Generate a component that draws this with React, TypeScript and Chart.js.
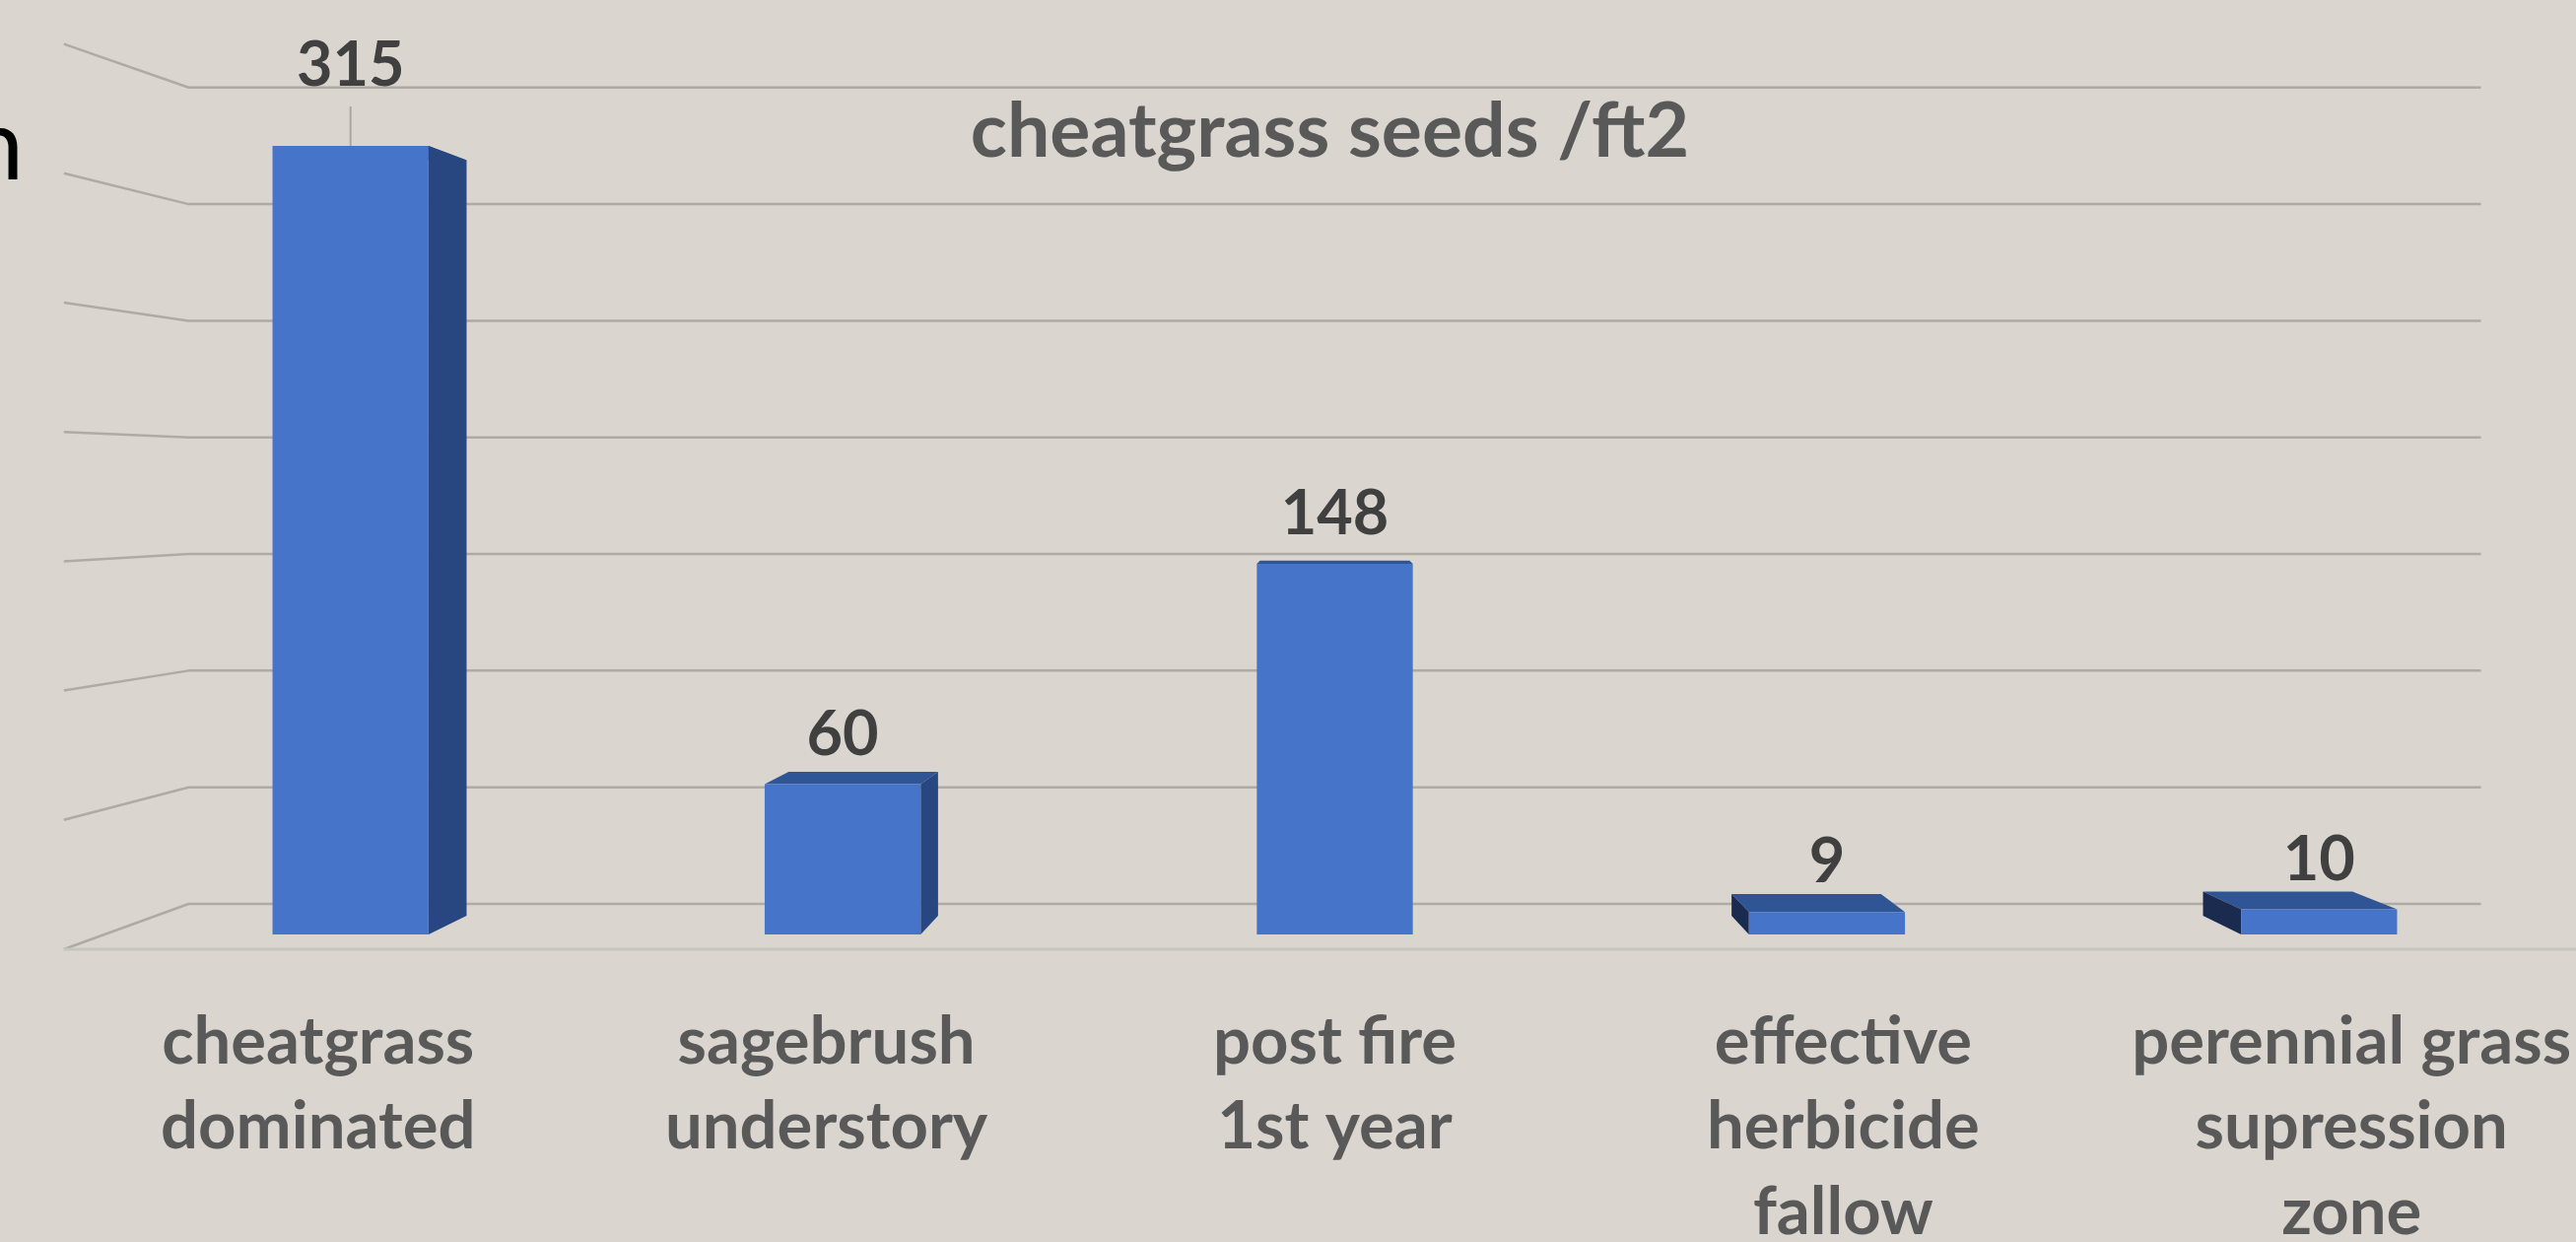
import React, { useEffect, useRef } from 'react';
import { Chart, registerables } from 'chart.js';

Chart.register(...registerables);

// ---- data ----
const TITLE = 'cheatgrass seeds /ft2';
const CATEGORIES: string[][] = [
  ['cheatgrass', 'dominated'],
  ['sagebrush', 'understory'],
  ['post fire', '1st year'],
  ['effective', 'herbicide', 'fallow'],
  ['perennial grass', 'supression', 'zone'],
];
const SEED_COUNTS: number[] = [315, 60, 148, 9, 10];
const GRID_VALUES: number[] = [0, 50, 100, 150, 200, 250, 300, 350];
const Y_MAX = 350;
const SIDE_TEXT = 'n';

// ---- style ----
const BG = '#dad6cf';
const FRONT = '#4674c9';
const TOP_FACE = '#305594';
const RIGHT_FACE = '#284780';
const LEFT_FACE = '#1b2b4f';
const GRID = '#aeaaa4';
const FLOOR = '#c6c4c0';
const FONT = 'Lato, "Open Sans", sans-serif';

// perspective (depth factors relative to the bars' front plane)
const VANISH_Y = 0.49;
const BAR_DEPTH = 0.958;
const WALL_DEPTH = 0.9316;
const FLOOR_DEPTH = 1.033;
const N = CATEGORIES.length;
const LABEL_MIN = (N - 1) / 2 - N / (2 * FLOOR_DEPTH);
const LABEL_MAX = LABEL_MIN + N / FLOOR_DEPTH;

const perspectivePlugin = {
  id: 'perspective3d',
  beforeDatasetsDraw(chart: any) {
    const { ctx, chartArea: a, scales } = chart;
    const y = scales.y;
    const vx = (a.left + a.right) / 2;
    const vy = a.top + VANISH_Y * (a.bottom - a.top);
    const proj = (px: number, py: number, k: number) => [vx + k * (px - vx), vy + k * (py - vy)];
    ctx.save();
    // back wall gridlines + left wall
    ctx.strokeStyle = GRID;
    ctx.lineWidth = 2.5;
    ctx.lineJoin = 'round';
    for (const g of GRID_VALUES) {
      const py = y.getPixelForValue(g);
      const [bl, by] = proj(a.left, py, WALL_DEPTH);
      const [br] = proj(a.right, py, WALL_DEPTH);
      const [fl, fy] = proj(a.left, py, FLOOR_DEPTH);
      ctx.beginPath();
      ctx.moveTo(fl, fy);
      ctx.lineTo(bl, by);
      ctx.lineTo(br, by);
      ctx.stroke();
    }
    // floor front edge
    const [fl0, fy0] = proj(a.left, y.getPixelForValue(0), FLOOR_DEPTH);
    ctx.strokeStyle = FLOOR;
    ctx.lineWidth = 3;
    ctx.beginPath();
    ctx.moveTo(fl0, fy0);
    ctx.lineTo(chart.width, fy0);
    ctx.stroke();

    // bar top / side faces
    const meta = chart.getDatasetMeta(0);
    const poly = (pts: number[][], color: string) => {
      ctx.fillStyle = color;
      ctx.beginPath();
      ctx.moveTo(pts[0][0], pts[0][1]);
      for (let i = 1; i < pts.length; i++) ctx.lineTo(pts[i][0], pts[i][1]);
      ctx.closePath();
      ctx.fill();
    };
    meta.data.forEach((bar: any) => {
      const { x, y: top, base, width } = bar.getProps(['x', 'y', 'base', 'width'], true);
      const xl = x - width / 2;
      const xr = x + width / 2;
      const [bxl, bty] = proj(xl, top, BAR_DEPTH);
      const [bxr] = proj(xr, top, BAR_DEPTH);
      const [, bby] = proj(xl, base, BAR_DEPTH);
      poly([[xl, top], [xr, top], [bxr, bty], [bxl, bty]], TOP_FACE);
      if (xr < vx) poly([[xr, top], [bxr, bty], [bxr, bby], [xr, base]], RIGHT_FACE);
      if (xl > vx) poly([[xl, top], [bxl, bty], [bxl, bby], [xl, base]], LEFT_FACE);
    });
    ctx.restore();
  },
  afterDatasetsDraw(chart: any) {
    const { ctx, chartArea: a } = chart;
    const meta = chart.getDatasetMeta(0);
    const values: number[] = chart.data.datasets[0].data;
    const maxVal = Math.max(...values);
    ctx.save();
    ctx.font = `bold 63px ${FONT}`;
    ctx.fillStyle = '#404040';
    ctx.textAlign = 'center';
    ctx.textBaseline = 'alphabetic';
    meta.data.forEach((bar: any, i: number) => {
      const { x, y } = bar.getProps(['x', 'y'], true);
      const v = values[i];
      if (v === maxVal) {
        ctx.strokeStyle = '#a9a6a1';
        ctx.lineWidth = 2;
        ctx.beginPath();
        ctx.moveTo(x, y - 40);
        ctx.lineTo(x, y);
        ctx.stroke();
        ctx.fillText(String(v), x, y - 61);
      } else {
        ctx.fillText(String(v), x, y - 30);
      }
    });
    // title
    ctx.font = `bold 77px ${FONT}`;
    ctx.fillStyle = '#595959';
    ctx.fillText(TITLE, (a.left + a.right) / 2 - 5, a.top + 100);
    // cut-off slide text at the left edge
    ctx.font = `100px ${FONT}`;
    ctx.fillStyle = '#000000';
    ctx.textAlign = 'right';
    ctx.fillText(SIDE_TEXT, 24, 182);
    ctx.restore();
  },
};

export default function App() {
  const canvasRef = useRef<HTMLCanvasElement | null>(null);

  useEffect(() => {
    if (!canvasRef.current) return;
    const chart = new Chart(canvasRef.current, {
      type: 'bar',
      data: {
        labels: CATEGORIES.map((c) => c.join(' ')),
        datasets: [
          {
            data: SEED_COUNTS,
            backgroundColor: FRONT,
            borderWidth: 0,
            categoryPercentage: 1,
            barPercentage: 0.317,
            xAxisID: 'x',
            yAxisID: 'y',
          },
        ],
      },
      options: {
        responsive: true,
        maintainAspectRatio: false,
        animation: false,
        layout: { padding: { top: 59, left: 106, right: 11, bottom: 0 } },
        plugins: {
          legend: { display: false },
          tooltip: { enabled: false },
          title: { display: false },
        },
        scales: {
          x: { type: 'category', display: false, offset: true },
          xLabels: {
            type: 'linear',
            position: 'bottom',
            bounds: 'data',
            offset: false,
            min: LABEL_MIN,
            max: LABEL_MAX,
            grid: { display: false, drawTicks: false, offset: false },
            border: { display: false },
            afterBuildTicks: (scale: any) => {
              scale.ticks = CATEGORIES.map((_, i) => ({ value: i }));
            },
            afterDataLimits: (scale: any) => {
              scale.min = LABEL_MIN;
              scale.max = LABEL_MAX;
            },
            afterFit: (scale: any) => {
              scale.height = 312;
              scale.paddingLeft = 0;
              scale.paddingRight = 0;
            },
            ticks: {
              autoSkip: false,
              maxRotation: 0,
              minRotation: 0,
              padding: 66,
              color: '#595959',
              font: { family: FONT, size: 67, weight: 'bold', lineHeight: 1.29 },
              callback: (value: any) => CATEGORIES[Math.round(Number(value))] ?? '',
            },
          },
          y: { display: false, min: 0, max: Y_MAX },
        },
      },
      plugins: [perspectivePlugin],
    } as any);
    return () => chart.destroy();
  }, []);

  return (
    <div
      style={{
        position: 'absolute',
        left: 0,
        top: 0,
        width: 2614,
        height: 1260,
        background: BG,
        overflow: 'hidden',
      }}
    >
      <canvas ref={canvasRef} />
    </div>
  );
}
